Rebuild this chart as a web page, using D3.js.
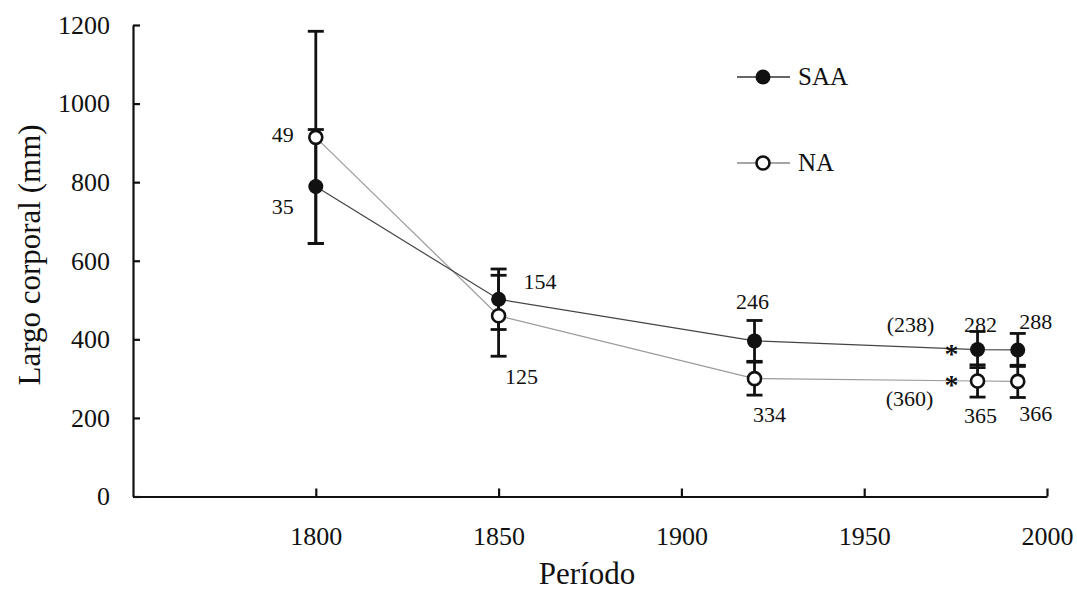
<!DOCTYPE html>
<html>
<head>
<meta charset="utf-8">
<script src="https://cdn.jsdelivr.net/npm/d3@7"></script>
<style>
  body { margin: 0; background: #fff; }
  svg text { font-family: "Liberation Serif", "Times New Roman", serif; fill: #111; }
</style>
</head>
<body>
<div id="content"><svg width="1077" height="600"></svg></div>
<script>
// data
var years = [1800, 1850, 1920, 1981, 1992];
var saaMean = [789, 502, 396, 374, 373];
var saaErr = [145, 77, 52, 46, 42];
var naMean = [914, 460, 300, 294, 293];
var naErr = [270, 103, 42, 41, 41];
var saaN = ['35', '154', '246', '282', '288'];
var naN = ['49', '125', '334', '365', '366'];
var xTicks = [1800, 1850, 1900, 1950, 2000];
var yTicks = [0, 200, 400, 600, 800, 1000, 1200];

var svg = d3.select('#content svg');

var x = d3.scaleLinear().domain([1750, 2000]).range([133, 1047]);
var y = d3.scaleLinear().domain([0, 1200]).range([496.5, 25]);

// axes, ticks pointing inward
var xAxis = svg.append('g')
    .attr('transform', 'translate(0,' + y(0) + ')')
    .call(d3.axisBottom(x).tickValues(xTicks).tickFormat(d3.format('d'))
        .tickSizeInner(-8).tickSizeOuter(0).tickPadding(30));

var yAxis = svg.append('g')
    .attr('transform', 'translate(' + x(1750) + ',0)')
    .call(d3.axisLeft(y).tickValues(yTicks).tickFormat(d3.format('d'))
        .tickSizeInner(-7).tickSizeOuter(0).tickPadding(23));

[xAxis, yAxis].forEach(function (g) {
    g.attr('font-family', null).attr('font-size', null);
    g.select('.domain').attr('stroke', '#111').attr('stroke-width', 2.2);
    g.selectAll('.tick line').attr('stroke', '#111').attr('stroke-width', 2.2);
    g.selectAll('.tick text').attr('fill', '#111').style('font-size', '26px');
});

svg.append('text')
    .attr('x', x(1875) - 3)
    .attr('y', 584)
    .attr('text-anchor', 'middle')
    .style('font-size', '31px')
    .text('Período');

svg.append('text')
    .attr('transform', 'translate(40,' + 255 + ') rotate(-90)')
    .attr('text-anchor', 'middle')
    .style('font-size', '31px')
    .text('Largo corporal  (mm)');

var saa = years.map(function (d, i) { return { yr: d, m: saaMean[i], e: saaErr[i], n: saaN[i] }; });
var na = years.map(function (d, i) { return { yr: d, m: naMean[i], e: naErr[i], n: naN[i] }; });

var line = d3.line()
    .x(function (d) { return x(d.yr); })
    .y(function (d) { return y(d.m); });

svg.append('path').datum(na)
    .attr('d', line).attr('fill', 'none')
    .attr('stroke', '#9a9a9a').attr('stroke-width', 1.2);
svg.append('path').datum(saa)
    .attr('d', line).attr('fill', 'none')
    .attr('stroke', '#444').attr('stroke-width', 1.2);

// error bars
function bars(data) {
    var g = svg.append('g').attr('stroke', '#111').attr('stroke-width', 2.8);
    data.forEach(function (d) {
        var cx = x(d.yr);
        g.append('line').attr('x1', cx).attr('x2', cx)
            .attr('y1', y(d.m - d.e)).attr('y2', y(d.m + d.e));
        [d.m - d.e, d.m + d.e].forEach(function (v) {
            g.append('line').attr('x1', cx - 8).attr('x2', cx + 8)
                .attr('y1', y(v)).attr('y2', y(v));
        });
    });
}
bars(na);
bars(saa);

svg.append('g').selectAll('circle').data(na).join('circle')
    .attr('cx', function (d) { return x(d.yr); })
    .attr('cy', function (d) { return y(d.m); })
    .attr('r', 6.5)
    .attr('fill', '#fff').attr('stroke', '#111').attr('stroke-width', 2.6);

svg.append('g').selectAll('circle').data(saa).join('circle')
    .attr('cx', function (d) { return x(d.yr); })
    .attr('cy', function (d) { return y(d.m); })
    .attr('r', 7.5)
    .attr('fill', '#111');

// sample size labels, offsets from each point
var saaOff = [[-22, 28, 'end'], [25, -10, 'start'], [-2, -32, 'middle'], [3, -18, 'middle'], [18, -21, 'middle']];
var naOff = [[-22, 5, 'end'], [23, 68, 'middle'], [15, 43, 'middle'], [3, 42, 'middle'], [18, 40, 'middle']];

function nLabels(data, off) {
    svg.append('g').selectAll('text').data(data).join('text')
        .attr('x', function (d, i) { return x(d.yr) + off[i][0]; })
        .attr('y', function (d, i) { return y(d.m) + off[i][1]; })
        .attr('text-anchor', function (d, i) { return off[i][2]; })
        .style('font-size', '22px')
        .text(function (d) { return d.n; });
}
nLabels(saa, saaOff);
nLabels(na, naOff);

// extra annotations next to 1981
svg.append('text')
    .attr('x', x(1981) - 67).attr('y', y(saaMean[3]) - 18)
    .attr('text-anchor', 'middle').style('font-size', '22px').text('(238)');
svg.append('text')
    .attr('x', x(1981) - 68).attr('y', y(naMean[3]) + 25)
    .attr('text-anchor', 'middle').style('font-size', '22px').text('(360)');
[saaMean[3], naMean[3]].forEach(function (v) {
    svg.append('text')
        .attr('x', x(1981) - 26).attr('y', y(v) + 13)
        .attr('text-anchor', 'middle')
        .style('font-size', '28px').style('font-weight', 'bold')
        .text('*');
});

// legend
var legend = [{ name: 'SAA', fill: '#111', y: 77 }, { name: 'NA', fill: '#fff', y: 163 }];
legend.forEach(function (d) {
    svg.append('line').attr('x1', 737).attr('x2', 790)
        .attr('y1', d.y).attr('y2', d.y)
        .attr('stroke', d.name === 'SAA' ? '#333' : '#888').attr('stroke-width', 1.5);
    svg.append('circle').attr('cx', 763).attr('cy', d.y)
        .attr('r', d.name === 'SAA' ? 7.5 : 6.5)
        .attr('fill', d.fill).attr('stroke', '#111')
        .attr('stroke-width', d.name === 'SAA' ? 0 : 2.6);
    svg.append('text').attr('x', 798).attr('y', d.y + 8)
        .style('font-size', '25px').text(d.name);
});
</script>
</body>
</html>
